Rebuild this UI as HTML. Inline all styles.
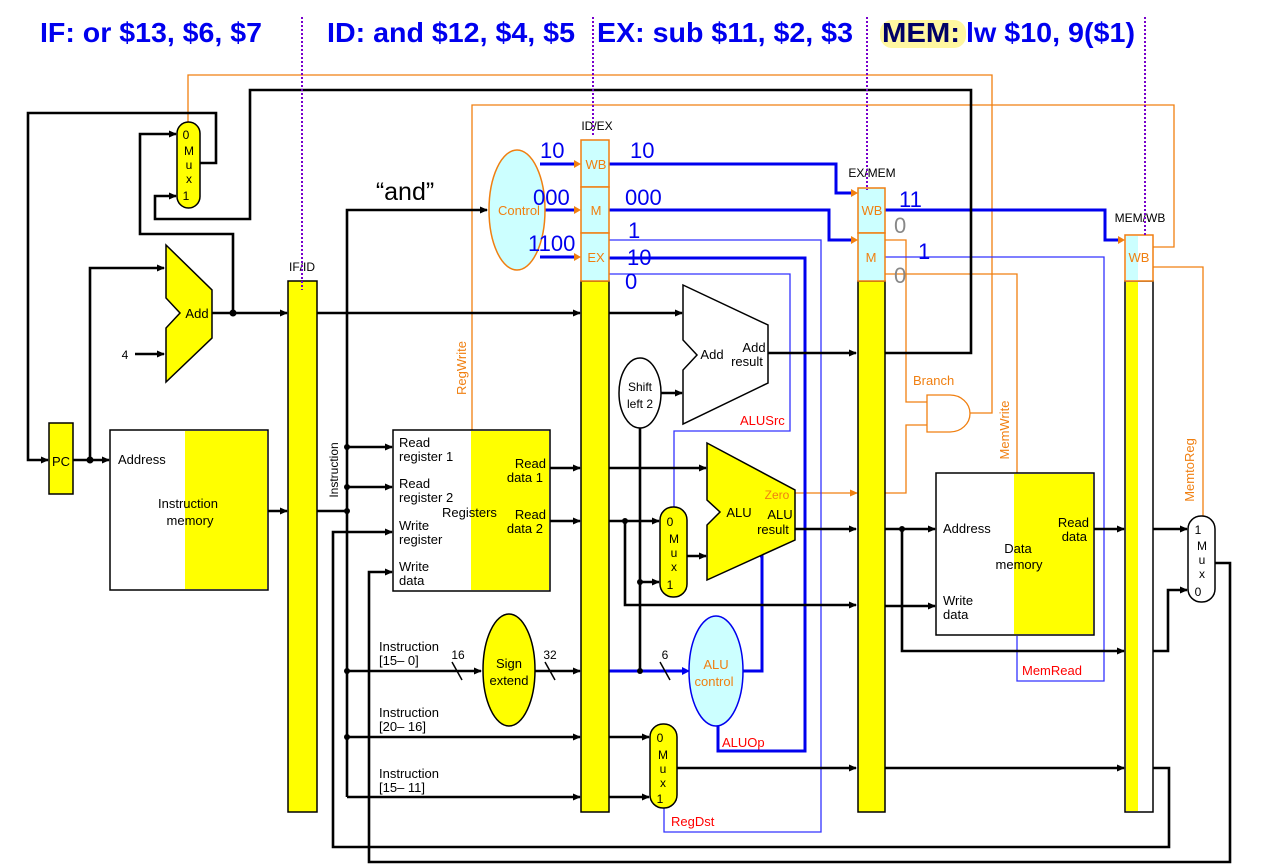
<!DOCTYPE html>
<html><head><meta charset="utf-8"><style>
html,body{margin:0;padding:0;background:#fff;}
svg{display:block;font-family:"Liberation Sans",Arial,sans-serif;}
</style></head><body>
<svg width="1282" height="865" viewBox="0 0 1282 865" xmlns="http://www.w3.org/2000/svg">
<defs>
<marker id="ak" markerWidth="8" markerHeight="8" refX="7" refY="4" orient="auto" markerUnits="userSpaceOnUse"><path d="M0,0.5 L8,4 L0,7.5 Z" fill="#000"/></marker>
<marker id="ao" markerWidth="8" markerHeight="8" refX="7" refY="4" orient="auto" markerUnits="userSpaceOnUse"><path d="M0,0.5 L8,4 L0,7.5 Z" fill="#f07f10"/></marker>
</defs>

<!-- titles -->
<g font-weight="bold" font-size="28" fill="#0000ee">
<text x="40" y="42" textLength="222" lengthAdjust="spacingAndGlyphs">IF: or $13, $6, $7</text>
<text x="327" y="42" textLength="248" lengthAdjust="spacingAndGlyphs">ID: and $12, $4, $5</text>
<text x="597" y="42" textLength="256" lengthAdjust="spacingAndGlyphs">EX: sub $11, $2, $3</text>
<rect x="880" y="20" width="86" height="28" rx="12" fill="#fff7a0"/>
<text x="882" y="42" fill="#000066" textLength="78" lengthAdjust="spacingAndGlyphs">MEM:</text>
<text x="966" y="42" textLength="169" lengthAdjust="spacingAndGlyphs">lw $10, 9($1)</text>
</g>

<!-- orange control lines -->
<g fill="none" stroke="#f07f10" stroke-width="1.3">
<polyline points="188,122 188,75 992,75 992,413 970,413"/>
<polyline points="472,430 472,105 1174,105 1174,247 1153,247"/>
<polyline points="885,240 906,240 906,402 927,402"/>
<polyline points="885,493 906,493 906,425 927,425"/>
<polyline points="885,274 1017,274 1017,473"/>
<polyline points="1153,267 1203,267 1203,517"/>
<path d="M927,395 L950,395 A20,18.5 0 0 1 950,432 L927,432 Z" fill="#fff"/>
</g>
<line x1="795" y1="493" x2="857" y2="493" stroke="#f07f10" stroke-width="1.3" marker-end="url(#ao)"/>

<!-- thin blue lines -->
<g fill="none" stroke="#3333ff" stroke-width="1.3">
<polyline points="609,240 821,240 821,832 664,832 664,808"/>
<polyline points="609,274 790,274 790,431 674,431 674,507"/>
<polyline points="885,257 1104,257 1104,681 1017,681 1017,636"/>
</g>
<!-- thick blue lines -->
<g fill="none" stroke="#0000ee" stroke-width="3">
<polyline points="609,164 836,164 836,193 852,193"/>
<polyline points="609,210 829,210 829,240 852,240"/>
<polyline points="609,258 805,258 805,751 718,751 718,726"/>
<polyline points="743,671 762,671 762,556 760,556"/>
<polyline points="885,210 1105,210 1105,240 1120,240"/>
<line x1="540" y1="164" x2="576" y2="164"/>
<line x1="540" y1="210" x2="576" y2="210"/>
<line x1="540" y1="257" x2="576" y2="257"/>
<line x1="609" y1="671" x2="684" y2="671"/>
</g>
<g fill="#f07f10">
<path d="M581,164 l-7,-4 v8z"/><path d="M581,210 l-7,-4 v8z"/><path d="M581,257 l-7,-4 v8z"/>
<path d="M858,193 l-7,-4 v8z"/><path d="M858,240 l-7,-4 v8z"/><path d="M1125,240 l-7,-4 v8z"/>
</g>
<path d="M690,671 l-8,-4 v8z" fill="#0000ee"/>

<!-- black wires -->
<g fill="none" stroke="#000" stroke-width="2.6">
<polyline points="200,163 216,163 216,113 28,113 28,460 48,460" marker-end="url(#ak)"/>
<polyline points="73,460 109,460" marker-end="url(#ak)"/>
<polyline points="90,460 90,268 164,268" marker-end="url(#ak)"/>
<polyline points="135,354 164,354" marker-end="url(#ak)"/>
<polyline points="212,313 287,313" marker-end="url(#ak)"/>
<polyline points="233,313 233,234 140,234 140,134 176,134" marker-end="url(#ak)"/>
<polyline points="885,353 971,353 971,90 250,90 250,219 155,219 155,196 176,196" marker-end="url(#ak)"/>
<polyline points="268,511 287,511" marker-end="url(#ak)"/>
<polyline points="317,313 580,313" marker-end="url(#ak)"/>
<polyline points="609,313 682,313" marker-end="url(#ak)"/>
<polyline points="317,511 347,511"/>
<polyline points="347,797 347,210 487,210" marker-end="url(#ak)"/>
<polyline points="347,447 392,447" marker-end="url(#ak)"/>
<polyline points="347,487 392,487" marker-end="url(#ak)"/>
<polyline points="347,671 481,671" marker-end="url(#ak)"/>
<polyline points="347,737 580,737" marker-end="url(#ak)"/>
<polyline points="347,797 580,797" marker-end="url(#ak)"/>
<polyline points="535,671 580,671" marker-end="url(#ak)"/>
<polyline points="1153,768 1169,768 1169,847 333,847 333,532 392,532" marker-end="url(#ak)"/>
<polyline points="1214,563 1230,563 1230,862 369,862 369,572 392,572" marker-end="url(#ak)"/>
<polyline points="550,468 580,468" marker-end="url(#ak)"/>
<polyline points="550,521 580,521" marker-end="url(#ak)"/>
<polyline points="609,468 706,468" marker-end="url(#ak)"/>
<polyline points="609,521 659,521" marker-end="url(#ak)"/>
<polyline points="625,521 625,605 856,605" marker-end="url(#ak)"/>
<polyline points="640,428 640,671"/>
<polyline points="640,582 659,582" marker-end="url(#ak)"/>
<polyline points="661,393 682,393" marker-end="url(#ak)"/>
<polyline points="768,353 856,353" marker-end="url(#ak)"/>
<polyline points="687,556 706,556" marker-end="url(#ak)"/>
<polyline points="795,529 856,529" marker-end="url(#ak)"/>
<polyline points="885,529 935,529" marker-end="url(#ak)"/>
<polyline points="902,529 902,651 1124,651" marker-end="url(#ak)"/>
<polyline points="885,606 935,606" marker-end="url(#ak)"/>
<polyline points="1094,529 1124,529" marker-end="url(#ak)"/>
<polyline points="1153,529 1187,529" marker-end="url(#ak)"/>
<polyline points="1153,651 1168,651 1168,590 1187,590" marker-end="url(#ak)"/>
<polyline points="609,737 649,737" marker-end="url(#ak)"/>
<polyline points="609,797 649,797" marker-end="url(#ak)"/>
<polyline points="677,768 856,768" marker-end="url(#ak)"/>
<polyline points="885,768 1124,768" marker-end="url(#ak)"/>
</g>
<g stroke="#000" stroke-width="1.5">
<line x1="452" y1="662" x2="462" y2="680"/><line x1="545" y1="662" x2="555" y2="680"/><line x1="660" y1="662" x2="670" y2="680" stroke="#000"/>
</g>
<g fill="#000">
<circle cx="90" cy="460" r="3.5"/><circle cx="233" cy="313" r="3.5"/>
<circle cx="347" cy="447" r="3"/><circle cx="347" cy="487" r="3"/><circle cx="347" cy="511" r="3"/>
<circle cx="347" cy="671" r="3"/><circle cx="347" cy="737" r="3"/>
<circle cx="625" cy="521" r="3"/><circle cx="640" cy="582" r="3"/><circle cx="640" cy="671" r="3"/>
<circle cx="902" cy="529" r="3"/>
</g>

<!-- components -->
<rect x="49" y="423" width="24" height="71" fill="#ff0" stroke="#000" stroke-width="1.5"/>
<text x="61" y="466" font-size="13" text-anchor="middle">PC</text>

<rect x="110" y="430" width="158" height="160" fill="#fff" stroke="#000" stroke-width="1.5"/>
<rect x="185" y="431" width="82" height="158" fill="#ff0"/>
<text x="118" y="464" font-size="13">Address</text>
<text x="188" y="508" font-size="13" text-anchor="middle">Instruction</text>
<text x="190" y="525" font-size="13" text-anchor="middle">memory</text>

<polygon points="166,245 212,290 212,338 166,382 166,328 180,313 166,298" fill="#ff0" stroke="#000" stroke-width="1.5"/>
<text x="197" y="318" font-size="13" text-anchor="middle">Add</text>
<text x="125" y="359" font-size="12" text-anchor="middle">4</text>

<rect x="177" y="122" width="23" height="86" rx="11.5" fill="#ff0" stroke="#000" stroke-width="1.5"/>
<g font-size="12" text-anchor="middle"><text x="186" y="139">0</text><text x="189" y="155">M</text><text x="189" y="169">u</text><text x="189" y="183">x</text><text x="186" y="200">1</text></g>

<rect x="288" y="281" width="29" height="531" fill="#ff0" stroke="#000" stroke-width="1.5"/>
<text x="302" y="271" font-size="12" text-anchor="middle">IF/ID</text>
<text transform="translate(338,470) rotate(-90)" font-size="12" text-anchor="middle">Instruction</text>

<text x="405" y="200" font-size="25" text-anchor="middle">“and”</text>

<ellipse cx="517" cy="210" rx="28" ry="60" fill="#ccffff" stroke="#f07f10" stroke-width="1.5"/>
<text x="519" y="215" font-size="13" fill="#f07f10" text-anchor="middle">Control</text>

<rect x="393" y="430" width="157" height="161" fill="#fff" stroke="#000" stroke-width="1.5"/>
<rect x="471" y="431" width="78" height="159" fill="#ff0"/>
<g font-size="13">
<text x="399" y="447">Read</text><text x="399" y="461">register 1</text>
<text x="399" y="488">Read</text><text x="399" y="502">register 2</text>
<text x="442" y="517">Registers</text>
<text x="399" y="530">Write</text><text x="399" y="544">register</text>
<text x="399" y="571">Write</text><text x="399" y="585">data</text>
<text x="546" y="468" text-anchor="end">Read</text><text x="543" y="482" text-anchor="end">data 1</text>
<text x="546" y="519" text-anchor="end">Read</text><text x="543" y="533" text-anchor="end">data 2</text>
<text x="379" y="651">Instruction</text><text x="379" y="665">[15– 0]</text>
<text x="379" y="717">Instruction</text><text x="379" y="731">[20– 16]</text>
<text x="379" y="778">Instruction</text><text x="379" y="792">[15– 11]</text>
<text x="458" y="659" font-size="12" text-anchor="middle">16</text>
<text x="550" y="659" font-size="12" text-anchor="middle">32</text>
<text x="665" y="659" font-size="12" text-anchor="middle">6</text>
</g>
<text transform="translate(466,368) rotate(-90)" font-size="13" fill="#f07f10" text-anchor="middle">RegWrite</text>

<ellipse cx="509" cy="670" rx="26" ry="56" fill="#ff0" stroke="#000" stroke-width="1.5"/>
<text x="509" y="668" font-size="13" text-anchor="middle">Sign</text>
<text x="509" y="685" font-size="13" text-anchor="middle">extend</text>

<!-- ID/EX -->
<rect x="581" y="281" width="28" height="531" fill="#ff0" stroke="#000" stroke-width="1.5"/>
<g fill="#ccffff" stroke="#f07f10" stroke-width="1.5">
<rect x="581" y="140" width="28" height="47"/><rect x="581" y="187" width="28" height="46"/><rect x="581" y="233" width="28" height="48"/>
</g>
<g font-size="13" fill="#f07f10" text-anchor="middle"><text x="596" y="169">WB</text><text x="596" y="215">M</text><text x="596" y="262">EX</text></g>
<text x="597" y="130" font-size="12" text-anchor="middle">ID/EX</text>

<g font-size="22" fill="#0000ee">
<text x="540" y="158">10</text><text x="533" y="205">000</text><text x="528" y="251">1100</text>
<text x="630" y="158">10</text><text x="625" y="205">000</text><text x="628" y="238">1</text><text x="627" y="265">10</text><text x="625" y="289">0</text>
<text x="899" y="207">11</text><text x="918" y="259">1</text>
</g>
<g font-size="22" fill="#888"><text x="894" y="233">0</text><text x="894" y="283">0</text></g>

<ellipse cx="640" cy="393" rx="21" ry="35" fill="#fff" stroke="#000" stroke-width="1.5"/>
<text x="640" y="391" font-size="12" text-anchor="middle">Shift</text>
<text x="640" y="408" font-size="12" text-anchor="middle">left 2</text>

<polygon points="683,285 768,325 768,383 683,424 683,370 697,355 683,340" fill="#fff" stroke="#000" stroke-width="1.5"/>
<text x="712" y="359" font-size="13" text-anchor="middle">Add</text>
<text x="754" y="352" font-size="13" text-anchor="middle">Add</text>
<text x="747" y="366" font-size="13" text-anchor="middle">result</text>
<text x="740" y="425" font-size="13" fill="#ff0000">ALUSrc</text>

<polygon points="707,443 795,490 795,540 707,580 707,525 720,512 707,500" fill="#ff0" stroke="#000" stroke-width="1.5"/>
<text x="739" y="517" font-size="13" text-anchor="middle">ALU</text>
<text x="777" y="499" font-size="12" fill="#f07f10" text-anchor="middle">Zero</text>
<text x="780" y="519" font-size="13" text-anchor="middle">ALU</text>
<text x="773" y="534" font-size="13" text-anchor="middle">result</text>

<rect x="660" y="507" width="27" height="90" rx="13" fill="#ff0" stroke="#000" stroke-width="1.5"/>
<g font-size="12" text-anchor="middle"><text x="670" y="526">0</text><text x="674" y="543">M</text><text x="674" y="557">u</text><text x="674" y="571">x</text><text x="670" y="589">1</text></g>

<ellipse cx="716" cy="671" rx="27" ry="55" fill="#ccffff" stroke="#0000ee" stroke-width="1.5"/>
<text x="716" y="669" font-size="13" fill="#f07f10" text-anchor="middle">ALU</text>
<text x="714" y="686" font-size="13" fill="#f07f10" text-anchor="middle">control</text>
<text x="722" y="747" font-size="13" fill="#ff0000">ALUOp</text>

<rect x="650" y="724" width="27" height="84" rx="13" fill="#ff0" stroke="#000" stroke-width="1.5"/>
<g font-size="12" text-anchor="middle"><text x="660" y="742">0</text><text x="663" y="759">M</text><text x="663" y="773">u</text><text x="663" y="787">x</text><text x="660" y="803">1</text></g>
<text x="671" y="826" font-size="13" fill="#ff0000">RegDst</text>

<!-- EX/MEM -->
<rect x="858" y="281" width="27" height="531" fill="#ff0" stroke="#000" stroke-width="1.5"/>
<g fill="#ccffff" stroke="#f07f10" stroke-width="1.5"><rect x="858" y="188" width="27" height="45"/><rect x="858" y="233" width="27" height="48"/></g>
<g font-size="13" fill="#f07f10" text-anchor="middle"><text x="872" y="215">WB</text><text x="871" y="262">M</text></g>
<text x="872" y="177" font-size="12" text-anchor="middle">EX/MEM</text>
<text x="913" y="385" font-size="13" fill="#f07f10">Branch</text>
<text transform="translate(1009,430) rotate(-90)" font-size="13" fill="#f07f10" text-anchor="middle">MemWrite</text>

<rect x="936" y="473" width="158" height="162" fill="#fff" stroke="#000" stroke-width="1.5"/>
<rect x="1014" y="474" width="79" height="160" fill="#ff0"/>
<g font-size="13">
<text x="943" y="533">Address</text>
<text x="1018" y="553" text-anchor="middle">Data</text><text x="1019" y="569" text-anchor="middle">memory</text>
<text x="943" y="605">Write</text><text x="943" y="619">data</text>
<text x="1089" y="527" text-anchor="end">Read</text><text x="1087" y="541" text-anchor="end">data</text>
<text x="1022" y="675" fill="#ff0000">MemRead</text>
</g>

<!-- MEM/WB -->
<rect x="1125" y="281" width="28" height="531" fill="#fff" stroke="#000" stroke-width="1.5"/>
<rect x="1126" y="282" width="12" height="529" fill="#ff0"/>
<rect x="1125" y="235" width="28" height="46" fill="#fff" stroke="#f07f10" stroke-width="1.5"/>
<rect x="1126" y="236" width="12" height="44" fill="#ccffff"/>
<text x="1139" y="262" font-size="13" fill="#f07f10" text-anchor="middle">WB</text>
<text x="1140" y="222" font-size="12" text-anchor="middle">MEM/WB</text>
<text transform="translate(1194,470) rotate(-90)" font-size="13" fill="#f07f10" text-anchor="middle">MemtoReg</text>

<rect x="1188" y="516" width="27" height="86" rx="13" fill="#fff" stroke="#000" stroke-width="1.5"/>
<g font-size="12" text-anchor="middle"><text x="1198" y="534">1</text><text x="1202" y="550">M</text><text x="1202" y="564">u</text><text x="1202" y="578">x</text><text x="1198" y="596">0</text></g>

<!-- purple dotted stage lines -->
<g stroke="#7700cc" stroke-width="2" stroke-dasharray="2,2">
<line x1="302" y1="17" x2="302" y2="290"/>
<line x1="593" y1="17" x2="593" y2="135"/>
<line x1="867" y1="17" x2="867" y2="190"/>
<line x1="1145" y1="17" x2="1145" y2="237"/>
</g>
</svg>
</body></html>
